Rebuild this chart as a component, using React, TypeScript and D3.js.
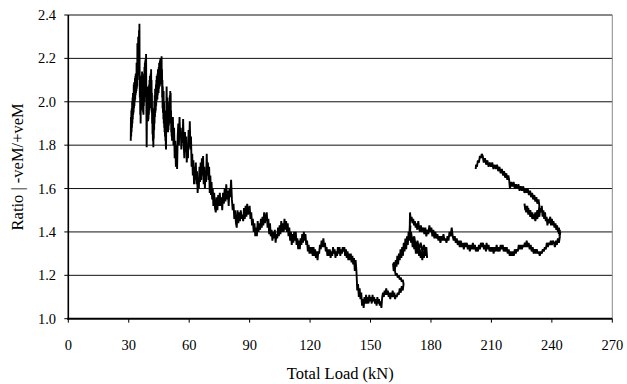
import React from "react";
import * as d3 from "d3";

type Pt = [number, number];

// Total load (kN) vs moment ratio |-veM/+veM|, recorded in successive load phases.
const initialLoading: Pt[] = [
  [31.0, 1.82], [31.1, 1.93], [31.2, 1.84], [31.3, 1.96], [31.4, 1.86], [31.5, 1.97], [31.6, 1.88], [31.7, 2.0],
  [31.8, 1.9], [31.9, 2.02], [32.0, 1.92], [32.1, 2.04], [32.2, 1.94], [32.3, 2.03], [32.4, 1.95], [32.5, 2.08],
  [32.6, 1.97], [32.7, 2.09], [32.8, 1.98], [32.9, 2.07], [33.0, 2.0], [33.1, 2.11], [33.2, 2.01], [33.3, 2.12],
  [33.4, 2.03], [33.5, 2.13], [33.6, 2.04], [33.7, 2.11], [33.8, 2.05], [33.9, 2.18], [34.0, 2.06], [34.1, 2.16],
  [34.2, 2.07], [34.3, 2.27], [34.4, 2.1], [34.5, 2.22], [34.6, 2.12], [34.7, 2.3], [34.8, 2.15], [34.9, 2.26],
  [35.0, 2.16], [35.1, 2.33], [35.2, 2.18], [35.3, 2.36], [35.4, 2.15], [35.5, 2.02], [35.6, 2.1], [35.7, 1.94],
  [35.8, 2.05], [35.9, 1.9], [36.0, 2.06], [36.1, 1.96], [36.2, 2.12], [36.3, 1.98], [36.4, 2.1], [36.5, 1.97],
  [36.6, 2.14], [36.7, 1.99], [36.8, 2.13], [36.9, 1.97], [37.0, 2.09], [37.1, 1.95], [37.2, 2.07], [37.3, 1.94],
  [37.4, 2.05], [37.5, 1.98], [37.6, 2.12], [37.7, 2.0], [37.8, 2.16], [37.9, 2.02], [38.0, 2.18], [38.1, 2.04],
  [38.2, 2.19], [38.3, 2.05], [38.4, 2.2], [38.5, 2.06], [38.6, 2.22], [38.7, 2.05], [38.8, 1.9], [38.9, 1.79],
  [39.0, 1.92], [39.1, 2.04], [39.2, 1.92], [39.3, 2.07], [39.4, 1.94], [39.5, 2.05], [39.6, 1.91], [39.7, 2.03],
  [39.8, 1.92], [39.9, 2.06], [40.0, 1.94], [40.1, 2.08], [40.2, 1.96], [40.3, 2.1], [40.4, 1.97], [40.5, 2.12],
  [40.6, 1.99], [40.7, 2.1], [40.8, 1.97], [40.9, 2.13], [41.0, 2.0], [41.1, 2.15], [41.2, 2.0], [41.3, 2.1],
  [41.4, 1.95], [41.5, 2.04], [41.6, 1.9], [41.7, 1.97], [41.8, 1.85], [41.9, 1.93], [42.0, 1.82], [42.1, 1.9],
  [42.2, 1.79], [42.3, 1.88], [42.4, 1.83], [42.5, 1.97], [42.6, 1.87], [42.7, 2.0], [42.8, 1.9], [42.9, 2.03],
  [43.0, 1.93], [43.1, 2.06], [43.2, 1.95], [43.3, 2.04], [43.4, 1.96], [43.5, 2.08], [43.6, 1.98], [43.7, 2.1],
  [43.8, 2.0], [43.9, 2.12], [44.0, 2.02], [44.1, 2.1], [44.2, 2.01], [44.3, 2.13], [44.4, 2.03], [44.5, 2.15],
  [44.6, 2.05], [44.7, 2.12], [44.8, 2.04], [44.9, 2.16], [45.0, 2.06], [45.1, 2.18], [45.2, 2.08], [45.3, 2.14],
  [45.4, 2.07], [45.5, 2.19], [45.6, 2.09], [45.7, 2.2], [45.8, 2.1], [45.9, 2.16], [46.0, 2.08], [46.1, 2.19],
  [46.2, 2.1], [46.3, 2.21], [46.4, 2.08], [46.5, 2.15], [46.6, 2.02], [46.7, 2.1], [46.8, 1.97], [46.9, 2.07],
  [47.0, 1.95], [47.1, 2.04], [47.2, 1.92], [47.3, 2.05], [47.4, 1.9], [47.5, 2.0], [47.6, 1.88], [47.7, 1.96],
  [47.8, 1.86], [47.9, 1.95], [48.0, 1.84], [48.1, 1.92], [48.2, 1.82], [48.3, 1.9], [48.4, 1.8], [48.5, 1.78],
  [48.6, 1.9], [48.7, 2.0], [48.8, 2.07], [48.9, 1.95], [49.0, 2.02], [49.1, 1.9], [49.2, 1.98], [49.3, 1.88],
  [49.4, 1.96], [49.5, 1.86], [49.6, 1.94], [49.7, 1.87], [49.8, 1.97], [49.9, 1.89], [50.0, 2.0], [50.1, 1.9],
  [50.2, 2.02], [50.3, 1.92], [50.4, 2.03], [50.5, 1.93], [50.6, 2.05], [50.7, 1.94], [50.8, 2.04], [50.9, 1.9],
  [51.0, 1.96], [51.1, 1.86], [51.2, 1.92], [51.3, 1.84], [51.4, 1.88], [51.5, 1.82], [51.6, 1.9], [51.7, 1.83],
  [51.9, 1.93], [52.2, 1.8], [52.5, 1.88], [52.8, 1.74], [53.1, 1.82], [53.4, 1.7], [53.7, 1.8], [54.0, 1.69],
  [54.3, 1.84], [54.6, 1.9], [54.9, 1.8], [55.2, 1.93], [55.5, 1.84], [55.8, 1.88], [56.1, 1.78], [56.4, 1.86],
  [56.7, 1.81], [57.0, 1.92], [57.3, 1.8], [57.6, 1.74], [57.9, 1.86], [58.2, 1.77], [58.5, 1.84], [58.8, 1.72],
  [59.1, 1.8], [59.4, 1.74], [59.7, 1.87], [60.0, 1.79], [60.3, 1.91], [60.6, 1.78], [60.9, 1.84], [61.2, 1.7],
  [61.5, 1.76], [61.8, 1.66], [62.1, 1.73], [62.4, 1.62], [62.7, 1.7], [63.0, 1.64], [63.3, 1.72], [63.6, 1.62],
  [63.9, 1.68], [64.2, 1.58], [64.5, 1.65], [64.8, 1.6], [65.1, 1.7], [65.4, 1.63], [65.7, 1.72], [66.0, 1.64],
  [66.3, 1.74], [66.6, 1.66], [66.9, 1.75], [67.2, 1.62], [67.5, 1.7], [67.8, 1.6], [68.1, 1.68], [68.4, 1.63],
  [68.7, 1.76], [69.0, 1.66], [69.3, 1.72], [69.6, 1.64], [69.9, 1.7], [70.2, 1.58], [70.5, 1.66], [70.8, 1.57],
  [71.1, 1.63], [71.4, 1.55], [71.7, 1.6], [72.0, 1.52], [72.4, 1.58], [72.8, 1.51],
];

const steadyDecline: Pt[] = [
  [73.2, 1.49], [73.6, 1.56], [74.0, 1.5], [74.4, 1.57], [74.8, 1.52], [75.2, 1.58], [75.6, 1.52], [76.0, 1.56],
  [76.4, 1.5], [76.8, 1.58], [77.2, 1.53], [77.6, 1.6], [78.0, 1.54], [78.4, 1.62], [78.8, 1.55], [79.2, 1.59],
  [79.6, 1.52], [80.0, 1.6], [80.4, 1.56], [80.8, 1.64], [81.2, 1.55], [81.6, 1.5], [82.0, 1.53], [82.4, 1.46],
  [82.8, 1.5], [83.2, 1.44], [83.6, 1.42], [84.0, 1.5], [84.4, 1.44], [84.8, 1.49], [85.2, 1.45], [85.6, 1.5],
  [86.0, 1.46], [86.4, 1.48], [86.8, 1.45], [87.2, 1.51], [87.6, 1.46], [88.0, 1.52], [88.4, 1.47], [88.8, 1.53],
  [89.2, 1.48], [89.6, 1.5], [90.0, 1.52], [90.4, 1.46], [90.8, 1.49], [91.2, 1.43], [91.6, 1.46], [92.0, 1.4],
  [92.4, 1.44], [92.8, 1.38], [93.2, 1.42], [93.6, 1.38], [94.0, 1.45], [94.4, 1.4], [94.8, 1.44], [95.2, 1.41],
  [95.6, 1.46], [96.0, 1.42], [96.4, 1.47], [96.8, 1.43], [97.2, 1.49], [97.6, 1.44], [98.0, 1.47], [98.5, 1.49],
  [98.9, 1.42], [99.3, 1.46], [99.7, 1.39], [100.1, 1.44], [100.5, 1.38], [100.9, 1.41], [101.3, 1.36], [101.7, 1.4],
  [102.1, 1.37], [102.5, 1.41], [102.9, 1.35], [103.3, 1.39], [103.7, 1.37], [104.1, 1.42], [104.5, 1.38], [104.9, 1.43],
  [105.3, 1.39], [105.7, 1.45], [106.1, 1.4], [106.5, 1.44], [106.9, 1.4], [107.3, 1.46], [107.7, 1.41], [108.1, 1.45],
  [108.5, 1.4], [108.9, 1.44], [109.3, 1.38], [109.7, 1.42], [110.1, 1.36], [110.5, 1.4], [110.9, 1.34], [111.3, 1.39],
  [111.7, 1.35], [112.1, 1.4], [112.5, 1.36], [112.9, 1.4], [113.3, 1.34], [113.7, 1.37], [114.1, 1.32], [114.5, 1.36],
  [114.9, 1.32], [115.3, 1.37], [115.7, 1.34], [116.1, 1.39], [116.5, 1.35], [116.9, 1.4], [117.3, 1.36], [117.7, 1.39],
  [118.1, 1.34], [118.5, 1.36], [118.9, 1.31], [119.3, 1.34], [119.7, 1.3], [120.1, 1.33], [120.5, 1.3], [120.9, 1.33],
  [121.3, 1.29], [121.7, 1.33], [122.1, 1.29], [122.5, 1.32], [122.9, 1.28], [123.3, 1.31], [123.7, 1.27], [124.1, 1.31],
  [124.5, 1.3], [124.9, 1.34], [125.3, 1.32], [125.7, 1.36], [126.1, 1.33], [126.6, 1.37], [127.0, 1.33], [127.4, 1.35],
  [127.8, 1.31], [128.2, 1.33], [128.6, 1.29], [129.0, 1.32], [129.4, 1.29], [129.8, 1.32], [130.2, 1.28], [130.6, 1.31],
  [131.0, 1.29], [131.4, 1.33], [131.8, 1.3], [132.2, 1.32], [132.6, 1.28], [133.0, 1.31], [133.4, 1.29], [133.8, 1.33],
  [134.2, 1.3], [134.6, 1.33], [135.0, 1.29], [135.4, 1.32], [135.8, 1.3], [136.2, 1.33], [136.6, 1.31], [137.0, 1.33],
  [137.4, 1.29], [137.8, 1.32], [138.2, 1.28], [138.6, 1.31], [139.0, 1.27], [139.4, 1.3], [139.8, 1.27], [140.2, 1.3],
  [140.6, 1.26], [141.0, 1.29], [141.4, 1.25], [141.8, 1.28], [142.2, 1.22], [142.6, 1.27], [143.0, 1.22],
];

const lowPlateau: Pt[] = [
  [143.2, 1.18], [143.4, 1.13], [143.8, 1.16], [144.2, 1.1], [144.6, 1.14], [145.0, 1.09], [145.4, 1.12], [145.8, 1.06],
  [146.2, 1.09], [146.6, 1.05], [147.0, 1.1], [147.4, 1.07], [147.8, 1.11], [148.2, 1.07], [148.6, 1.1], [149.0, 1.07],
  [149.4, 1.11], [149.8, 1.08], [150.2, 1.1], [150.6, 1.07], [151.0, 1.11], [151.4, 1.08], [151.8, 1.1], [152.2, 1.07],
  [152.6, 1.09], [153.0, 1.06], [153.4, 1.1], [153.8, 1.07], [154.2, 1.09], [154.6, 1.06], [155.0, 1.08], [155.4, 1.05],
  [155.8, 1.1], [156.2, 1.12], [156.6, 1.1], [157.0, 1.13], [157.4, 1.11], [157.8, 1.14], [158.2, 1.11], [158.6, 1.13],
  [159.0, 1.1], [159.4, 1.12], [159.8, 1.09], [160.2, 1.12], [160.6, 1.1], [161.0, 1.13], [161.4, 1.1], [161.8, 1.12],
  [162.2, 1.09], [162.6, 1.11], [163.0, 1.1], [163.5, 1.12], [164.0, 1.11], [164.5, 1.14], [165.0, 1.12], [165.5, 1.15],
  [166.0, 1.13], [166.4, 1.16], [166.0, 1.18], [165.5, 1.17], [165.0, 1.19], [164.5, 1.18], [164.0, 1.2], [163.5, 1.19],
  [163.0, 1.21], [162.5, 1.2], [162.0, 1.23], [161.5, 1.22], [161.2, 1.25],
];

const recovery: Pt[] = [
  [161.7, 1.26], [162.1, 1.22], [162.5, 1.27], [162.9, 1.24], [163.3, 1.29], [163.7, 1.25], [164.1, 1.3], [164.5, 1.27],
  [164.9, 1.32], [165.3, 1.28], [165.7, 1.33], [166.1, 1.29], [166.5, 1.35], [166.9, 1.31], [167.3, 1.37], [167.7, 1.32],
  [168.1, 1.38], [168.5, 1.34], [168.9, 1.4], [169.3, 1.36], [169.7, 1.4], [170.1, 1.35], [170.5, 1.38], [170.9, 1.33],
  [171.3, 1.37], [171.7, 1.32], [172.1, 1.35], [172.5, 1.3], [172.9, 1.34], [173.3, 1.3], [173.7, 1.33], [174.1, 1.29],
  [174.5, 1.32], [174.9, 1.28], [175.3, 1.31], [175.7, 1.27], [176.1, 1.31], [176.5, 1.28], [176.9, 1.32], [177.3, 1.29],
  [177.7, 1.31], [178.1, 1.28], [177.7, 1.33], [177.3, 1.31], [176.5, 1.34], [175.7, 1.31], [174.9, 1.35], [174.1, 1.32],
  [173.3, 1.36], [172.5, 1.33], [171.7, 1.38], [170.9, 1.35], [170.1, 1.4], [169.5, 1.37], [169.8, 1.43], [169.3, 1.39],
  [169.6, 1.45], [169.4, 1.38], [169.6, 1.49],
];

const lowerBranch: Pt[] = [
  [170.0, 1.45], [170.4, 1.47], [170.8, 1.44], [171.2, 1.46], [171.6, 1.43], [172.0, 1.45], [172.4, 1.42], [172.8, 1.44],
  [173.2, 1.41], [173.7, 1.45], [174.1, 1.42], [174.5, 1.4], [175.0, 1.43], [175.5, 1.4], [176.2, 1.42], [176.7, 1.39],
  [177.2, 1.42], [177.7, 1.38], [178.2, 1.41], [178.7, 1.39], [179.2, 1.43], [179.7, 1.4], [180.2, 1.42], [180.7, 1.38],
  [181.2, 1.41], [181.7, 1.37], [182.2, 1.4], [182.7, 1.37], [183.2, 1.39], [183.7, 1.36], [184.2, 1.38], [184.7, 1.35],
  [185.2, 1.38], [185.7, 1.36], [186.2, 1.39], [186.7, 1.36], [187.2, 1.37], [187.7, 1.35], [188.2, 1.38], [188.7, 1.36],
  [189.2, 1.4], [189.7, 1.38], [190.3, 1.42], [190.8, 1.38], [191.3, 1.36], [191.8, 1.38], [192.3, 1.35], [192.8, 1.37],
  [193.3, 1.34], [193.8, 1.36], [194.3, 1.33], [194.8, 1.36], [195.3, 1.33], [195.8, 1.35], [196.3, 1.32], [196.8, 1.35],
  [197.3, 1.33], [197.8, 1.35], [198.3, 1.32], [198.8, 1.34], [199.3, 1.31], [199.8, 1.34], [200.3, 1.32], [200.8, 1.35],
  [201.3, 1.32], [201.8, 1.34], [202.3, 1.31], [202.8, 1.33], [203.3, 1.31], [203.8, 1.34], [204.3, 1.32], [204.8, 1.35],
  [205.3, 1.33], [205.8, 1.35], [206.3, 1.32], [206.8, 1.34], [207.3, 1.31], [207.6, 1.35], [208.1, 1.32], [208.6, 1.34],
  [209.1, 1.31], [209.6, 1.33], [210.1, 1.31], [210.6, 1.33], [211.1, 1.3], [211.6, 1.33], [212.1, 1.31], [212.6, 1.34],
  [213.1, 1.31], [213.6, 1.33], [214.1, 1.31], [214.6, 1.34], [215.1, 1.32], [215.6, 1.34], [216.1, 1.31], [216.6, 1.33],
  [217.1, 1.31], [217.6, 1.33], [218.1, 1.3], [218.6, 1.32], [219.1, 1.29], [219.6, 1.31], [220.1, 1.29], [220.6, 1.31],
  [221.1, 1.29], [221.6, 1.32], [222.1, 1.3], [222.6, 1.32], [223.1, 1.31], [223.6, 1.34], [224.1, 1.32], [224.6, 1.34],
  [225.1, 1.32], [225.6, 1.34], [226.1, 1.33], [226.6, 1.35], [227.1, 1.33], [227.5, 1.36], [228.0, 1.33], [228.5, 1.35],
  [229.0, 1.32], [229.5, 1.34], [230.0, 1.31], [230.5, 1.33], [231.0, 1.3], [231.5, 1.32], [232.0, 1.3], [232.5, 1.32],
  [233.0, 1.3], [233.5, 1.31], [234.0, 1.29], [234.5, 1.31], [235.0, 1.3], [235.5, 1.32], [236.0, 1.31], [236.5, 1.33],
  [237.0, 1.32], [237.5, 1.35], [238.0, 1.33], [238.5, 1.35], [239.0, 1.34], [239.5, 1.36], [240.0, 1.34], [240.5, 1.36],
  [241.0, 1.35], [241.5, 1.33], [242.0, 1.36], [242.5, 1.34], [243.0, 1.37], [243.5, 1.35], [244.0, 1.38], [243.6, 1.36],
  [244.2, 1.4], [243.8, 1.38], [244.0, 1.41], [243.4, 1.39], [243.6, 1.42],
];

const upperBranch: Pt[] = [
  [243.0, 1.4], [242.6, 1.43], [242.2, 1.41], [241.8, 1.44], [241.3, 1.42], [240.8, 1.45], [240.4, 1.43], [240.0, 1.46],
  [239.6, 1.43], [239.2, 1.47], [238.7, 1.44], [238.2, 1.46], [237.8, 1.43], [237.4, 1.47], [237.0, 1.45], [236.6, 1.49],
  [236.2, 1.46], [235.8, 1.5], [235.4, 1.47], [235.0, 1.52], [234.6, 1.49], [234.2, 1.51], [233.8, 1.47], [233.3, 1.49],
  [232.8, 1.46], [232.3, 1.48], [231.8, 1.45], [231.3, 1.48], [230.8, 1.46], [230.3, 1.49], [229.8, 1.47], [229.3, 1.5],
  [228.8, 1.48], [228.3, 1.51], [227.8, 1.49], [227.3, 1.52], [226.8, 1.5], [226.4, 1.53], [226.8, 1.51], [227.3, 1.49],
  [227.8, 1.52], [228.3, 1.48], [228.8, 1.5], [229.3, 1.47], [229.8, 1.49], [230.3, 1.46], [230.8, 1.48], [231.3, 1.46],
  [231.8, 1.49], [232.3, 1.47], [232.8, 1.5], [233.3, 1.48], [233.8, 1.52], [233.4, 1.55], [232.8, 1.53], [232.3, 1.56],
  [231.8, 1.54], [231.3, 1.57], [230.7, 1.55], [230.2, 1.58], [229.7, 1.56], [229.2, 1.59], [228.6, 1.57], [228.0, 1.6],
  [227.5, 1.58], [227.0, 1.6], [226.4, 1.58], [225.8, 1.61], [225.2, 1.59], [224.6, 1.61], [224.0, 1.59], [223.4, 1.62],
  [222.8, 1.6], [222.2, 1.62], [221.6, 1.6], [221.0, 1.63], [220.4, 1.61], [219.8, 1.63], [219.2, 1.6], [218.8, 1.64],
  [218.4, 1.66], [217.9, 1.64], [217.4, 1.67], [216.8, 1.65], [216.3, 1.68], [215.8, 1.66], [215.2, 1.69], [214.6, 1.67],
  [214.0, 1.7], [213.4, 1.68], [212.8, 1.71], [212.2, 1.69], [211.6, 1.71], [211.0, 1.69], [210.4, 1.72], [209.8, 1.7],
  [209.2, 1.72], [208.6, 1.7], [208.0, 1.73], [207.4, 1.71], [206.8, 1.74], [206.2, 1.72], [205.7, 1.75], [205.2, 1.76],
  [204.8, 1.74], [204.3, 1.75], [203.8, 1.72], [203.3, 1.73], [202.8, 1.7], [202.4, 1.71], [202.2, 1.69],
];

const xTicks = [0, 30, 60, 90, 120, 150, 180, 210, 240, 270];
const yTicks = [1.0, 1.2, 1.4, 1.6, 1.8, 2.0, 2.2, 2.4];

const W = 627;
const H = 384;
const margin = { left: 68.3, right: 14.7, top: 15, bottom: 65.3 };
const FONT = "Liberation Serif, Times New Roman, DejaVu Serif, serif";
const textStyle = { fontFamily: FONT };

export default function App() {
  const x = d3.scaleLinear().domain([0, 270]).range([margin.left, W - margin.right]);
  const y = d3.scaleLinear().domain([1.0, 2.4]).range([H - margin.bottom, margin.top]);

  const series: Pt[] = [
    ...initialLoading,
    ...steadyDecline,
    ...lowPlateau,
    ...recovery,
    ...lowerBranch,
    ...upperBranch,
  ];

  const line = d3
    .line<Pt>()
    .x((d) => x(d[0]))
    .y((d) => y(d[1]));

  const x0 = x(0);
  const x1 = x(270);
  const yb = y(1.0);
  const yt = y(2.4);

  return (
    <svg
      width={W}
      height={H}
      style={{ position: "absolute", left: 0, top: 0, background: "#fff" }}
    >
      {/* horizontal gridlines */}
      {yTicks.slice(1).map((t) => (
        <line key={`g${t}`} x1={x0} x2={x1} y1={y(t)} y2={y(t)} stroke="#111" strokeWidth={1} />
      ))}
      {/* right frame edge */}
      <line x1={x1} x2={x1} y1={yt} y2={yb} stroke="#888" strokeWidth={1} />

      {/* data trace */}
      <path
        d={line(series) ?? ""}
        fill="none"
        stroke="#000"
        strokeWidth={1.9}
        strokeLinejoin="miter"
        strokeMiterlimit={2}
      />

      {/* y axis */}
      <line x1={x0} x2={x0} y1={yt} y2={yb + 1} stroke="#000" strokeWidth={1.6} />
      {yTicks.map((t) => (
        <g key={`y${t}`}>
          <line x1={x0 - 4} x2={x0} y1={y(t)} y2={y(t)} stroke="#000" strokeWidth={1} />
          <text x={56} y={y(t)} dy="0.35em" textAnchor="end" fontSize={14.5} fill="#000" style={textStyle}>
            {t.toFixed(1)}
          </text>
        </g>
      ))}

      {/* x axis */}
      <line x1={x0 - 1} x2={x1} y1={yb} y2={yb} stroke="#000" strokeWidth={2} />
      {xTicks.map((t) => (
        <g key={`x${t}`}>
          <line x1={x(t)} x2={x(t)} y1={yb} y2={yb + 4} stroke="#000" strokeWidth={1} />
          <text x={x(t)} y={349.5} textAnchor="middle" fontSize={14.5} fill="#000" style={textStyle}>
            {t}
          </text>
        </g>
      ))}

      {/* axis titles */}
      <text x={(x0 + x1) / 2} y={379} textAnchor="middle" fontSize={16.5} fill="#000" style={textStyle}>
        Total Load (kN)
      </text>
      <text
        transform={`translate(23, ${(yt + yb) / 2}) rotate(-90)`}
        textAnchor="middle"
        fontSize={16.5}
        fill="#000"
        style={textStyle}
      >
        Ratio | -veM/+veM
      </text>
    </svg>
  );
}
